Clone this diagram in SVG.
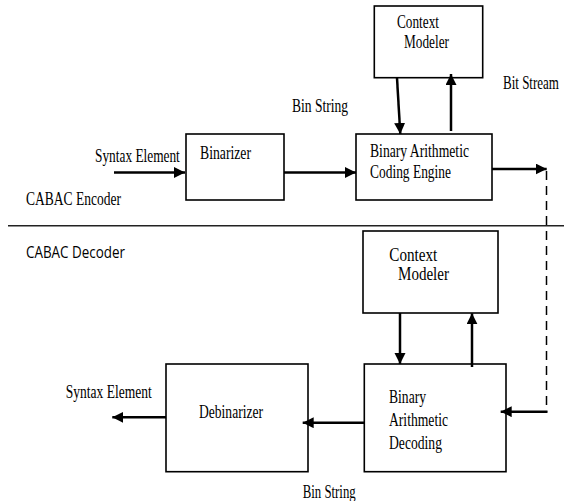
<svg xmlns="http://www.w3.org/2000/svg" width="564" height="501" viewBox="0 0 564 501">
<style>
.box{fill:#fff;stroke:#000;stroke-width:1.6}
.t{font-family:"Liberation Serif","Times New Roman",serif;font-size:18px;fill:#000}
.s{font-family:"Open Sans","Liberation Sans",sans-serif;font-size:17px;fill:#000}
.a{fill:none;stroke:#000;stroke-width:2.5}
.d{fill:none;stroke:#000;stroke-width:1.5;stroke-dasharray:9,6}
</style>
<defs>
<marker id="ah" markerUnits="userSpaceOnUse" markerWidth="12" markerHeight="12" refX="11" refY="5.5" orient="auto" viewBox="0 0 12 12">
<path d="M0,0 L11,5.5 L0,11 z" fill="#000"/>
</marker>
</defs>
<rect width="564" height="501" fill="#fff"/>
<line x1="8" y1="225.7" x2="564" y2="225.7" stroke="#222" stroke-width="1.5"/>
<text class="t" x="26" y="205" textLength="95" lengthAdjust="spacingAndGlyphs">CABAC Encoder</text>
<text class="s" x="26" y="258.3" textLength="99" lengthAdjust="spacingAndGlyphs">CABAC Decoder</text>
<text class="t" transform="translate(95 162) scale(0.742 1)">Syntax Element</text>
<text class="t" x="292" y="111.7" textLength="56" lengthAdjust="spacingAndGlyphs">Bin String</text>
<text class="t" transform="translate(503 89.3) scale(0.723 1)">Bit Stream</text>
<text class="t" x="65.7" y="398.3" textLength="86" lengthAdjust="spacingAndGlyphs">Syntax Element</text>
<text class="t" x="302.7" y="498.3" textLength="53" lengthAdjust="spacingAndGlyphs">Bin String</text>
<g id="binarizer">
<rect class="box" x="186" y="134" width="98" height="66"/>
<text class="t" x="200" y="159.3" textLength="51" lengthAdjust="spacingAndGlyphs">Binarizer</text>
</g>
<g id="context-modeler-enc">
<rect class="box" x="374.3" y="6" width="108.4" height="71.7"/>
<text class="t" x="397" y="27.5" textLength="42" lengthAdjust="spacingAndGlyphs">Context</text>
<text class="t" x="404" y="48.3" textLength="45" lengthAdjust="spacingAndGlyphs">Modeler</text>
</g>
<g id="bace">
<rect class="box" x="356" y="134" width="136" height="66"/>
<text class="t" x="370" y="157" textLength="99" lengthAdjust="spacingAndGlyphs">Binary Arithmetic</text>
<text class="t" x="370" y="178" textLength="81" lengthAdjust="spacingAndGlyphs">Coding Engine</text>
</g>
<g id="context-modeler-dec">
<rect class="box" x="363" y="231" width="135" height="82"/>
<text class="t" x="389.3" y="261" textLength="48" lengthAdjust="spacingAndGlyphs">Context</text>
<text class="t" x="398" y="280" textLength="51" lengthAdjust="spacingAndGlyphs">Modeler</text>
</g>
<g id="bad">
<rect class="box" x="364.3" y="364" width="141.7" height="107.7"/>
<text class="t" x="389" y="403.3" textLength="37" lengthAdjust="spacingAndGlyphs">Binary</text>
<text class="t" x="389" y="426" textLength="59" lengthAdjust="spacingAndGlyphs">Arithmetic</text>
<text class="t" x="389" y="449" textLength="53" lengthAdjust="spacingAndGlyphs">Decoding</text>
</g>
<g id="debinarizer">
<rect class="box" x="166" y="364" width="142" height="107.7"/>
<text class="t" x="199" y="418.3" textLength="64" lengthAdjust="spacingAndGlyphs">Debinarizer</text>
</g>
<g id="connectors">
<line class="a" x1="114" y1="172.5" x2="185" y2="172.5" marker-end="url(#ah)"/>
<line class="a" x1="284" y1="172.5" x2="356" y2="172.5" marker-end="url(#ah)"/>
<line class="a" x1="397" y1="78" x2="400.3" y2="134" marker-end="url(#ah)"/>
<line class="a" x1="451" y1="131" x2="451" y2="74" marker-end="url(#ah)"/>
<line class="a" x1="492" y1="169" x2="546.7" y2="169" marker-end="url(#ah)"/>
<path class="d" d="M546.5,171 L546.5,411.7"/>
<line class="a" x1="547.5" y1="411.7" x2="500.7" y2="411.7" marker-end="url(#ah)"/>
<line class="a" x1="400" y1="313" x2="400" y2="364" marker-end="url(#ah)"/>
<line class="a" x1="472" y1="367" x2="472" y2="313.3" marker-end="url(#ah)"/>
<line class="a" x1="364.3" y1="422.7" x2="302.7" y2="422.7" marker-end="url(#ah)"/>
<line class="a" x1="166" y1="417.3" x2="112.3" y2="417.3" marker-end="url(#ah)"/>
</g>
</svg>
